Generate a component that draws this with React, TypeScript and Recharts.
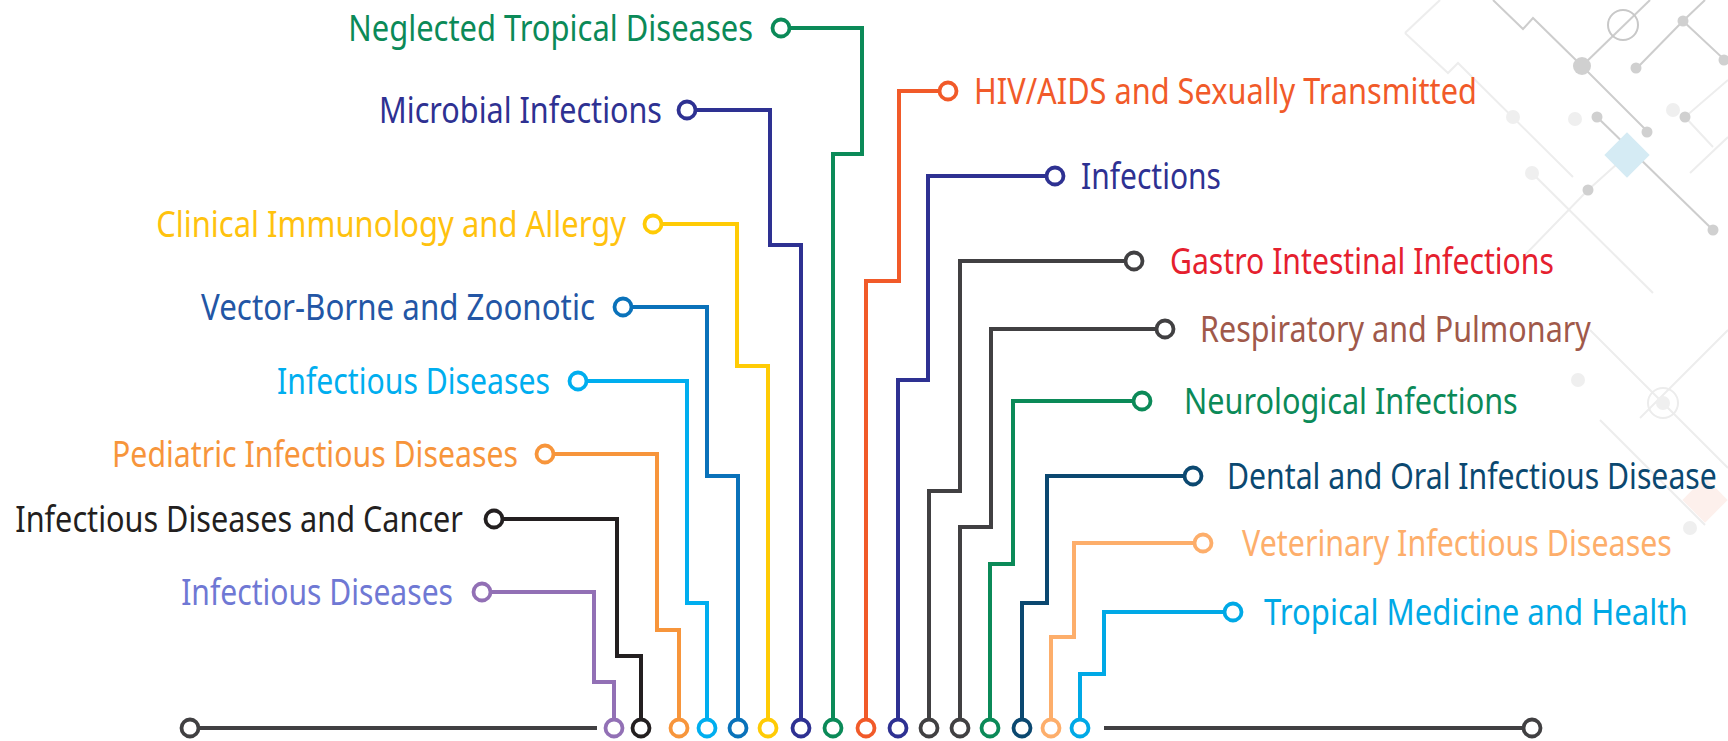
import { ComposedChart, Line, Scatter, XAxis, YAxis } from 'recharts'

const W = 1728
const H = 741

type Pt = [number, number]

// chart units are the pixels of the original picture (y grows downward)
// every path starts at the label circle and ends at the circle on the base row
const neglectedPath: Pt[] = [[781, 28], [862, 28], [862, 154], [833, 154], [833, 728]]
const microbialPath: Pt[] = [[687, 110], [770, 110], [770, 245], [801, 245], [801, 728]]
const clinicalPath: Pt[] = [[653, 224], [737, 224], [737, 366], [768, 366], [768, 728]]
const vectorPath: Pt[] = [[623, 307], [707, 307], [707, 476], [738, 476], [738, 728]]
const infectiousPath: Pt[] = [[578, 381], [687, 381], [687, 603], [707, 603], [707, 728]]
const pediatricPath: Pt[] = [[545, 454], [657, 454], [657, 630], [679, 630], [679, 728]]
const cancerPath: Pt[] = [[494, 519], [617, 519], [617, 656], [641, 656], [641, 728]]
const infectious2Path: Pt[] = [[482, 592], [594, 592], [594, 682], [614, 682], [614, 728]]
const hivPath: Pt[] = [[948, 91], [899, 91], [899, 281], [866, 281], [866, 728]]
const infectionsPath: Pt[] = [[1055, 176], [928, 176], [928, 380], [898, 380], [898, 728]]
const gastroPath: Pt[] = [[1134, 261], [960, 261], [960, 491], [929, 491], [929, 728]]
const respiratoryPath: Pt[] = [[1165, 329], [991, 329], [991, 527], [960, 527], [960, 728]]
const neuroPath: Pt[] = [[1142, 401], [1013, 401], [1013, 564], [990, 564], [990, 728]]
const dentalPath: Pt[] = [[1193, 476], [1047, 476], [1047, 603], [1022, 603], [1022, 728]]
const vetPath: Pt[] = [[1203, 543], [1074, 543], [1074, 637], [1051, 637], [1051, 728]]
const tropicalPath: Pt[] = [[1233, 612], [1104, 612], [1104, 674], [1080, 674], [1080, 728]]

const labels = [
  'Neglected Tropical Diseases',
  'Microbial Infections',
  'Clinical Immunology and Allergy',
  'Vector-Borne and Zoonotic',
  'Infectious Diseases',
  'Pediatric Infectious Diseases',
  'Infectious Diseases and Cancer',
  'Infectious Diseases',
  'HIV/AIDS and Sexually Transmitted',
  'Infections',
  'Gastro Intestinal Infections',
  'Respiratory and Pulmonary',
  'Neurological Infections',
  'Dental and Oral Infectious Disease',
  'Veterinary Infectious Diseases',
  'Tropical Medicine and Health',
]

const paths = [
  neglectedPath, microbialPath, clinicalPath, vectorPath,
  infectiousPath, pediatricPath, cancerPath, infectious2Path,
  hivPath, infectionsPath, gastroPath, respiratoryPath,
  neuroPath, dentalPath, vetPath, tropicalPath,
]

const sides = ['left', 'left', 'left', 'left', 'left', 'left', 'left', 'left',
  'right', 'right', 'right', 'right', 'right', 'right', 'right', 'right']

// base row with its two end circles
const baseLeft: Pt[] = [[190, 728], [597, 728]]
const baseRight: Pt[] = [[1104, 728], [1532, 728]]
const baseEnds: Pt[] = [[190, 728], [1532, 728]]

// styling
const lineColors = [
  '#0b8a58', '#2e3192', '#ffcb05', '#0a72ba', '#00aeef', '#f7953b', '#231f20', '#9270b5',
  '#f15a29', '#2e3192', '#414042', '#414042', '#0b8a58', '#0b4870', '#fdae6b', '#00a9e6',
]
const textColors = [
  '#0b8a58', '#2e3192', '#ffc20e', '#2356a5', '#00aeef', '#f7953b', '#231f20', '#6f78d4',
  '#f15a29', '#2e3192', '#e5202e', '#a0594a', '#0b8a58', '#0b4870', '#fdae6b', '#00a9e6',
]
const labelWidths = [405, 283, 470, 394, 273, 406, 448, 272, 503, 140, 384, 391, 334, 490, 430, 424]
const labelGaps = [28, 25, 27, 28, 28, 27, 31, 29, 26, 26, 36, 35, 42, 34, 39, 31]

// faint circuit pattern in the top right corner
const decoDark: Pt[][] = [
  [[1493, 0], [1523, 29], [1533, 18], [1582, 66], [1648, 132]],
  [[1650, 0], [1582, 66]],
  [[1597, 117], [1713, 230]],
  [[1705, 0], [1683, 21], [1637, 68]],
  [[1683, 21], [1728, 63]],
]
const decoLight: Pt[][] = [
  [[1405, 33], [1440, 0]],
  [[1405, 33], [1448, 73], [1458, 63], [1573, 177]],
  [[1627, 155], [1588, 190], [1523, 257]],
  [[1728, 80], [1685, 117], [1713, 147]],
  [[1690, 173], [1728, 137]],
  [[1532, 173], [1653, 293]],
  [[1590, 330], [1728, 468]],
  [[1728, 330], [1640, 418]],
  [[1600, 420], [1705, 525]],
]
const decoDots: Pt[] = [[1582, 66], [1636, 68], [1683, 21], [1724, 60], [1647, 132], [1597, 117], [1588, 190], [1713, 230], [1685, 117]]
const decoDotsLight: Pt[] = [[1513, 117], [1575, 119], [1532, 173], [1673, 110], [1663, 403], [1578, 380], [1690, 528]]
const decoRings: Pt[] = [[1623, 25], [1663, 403]]
const decoDiamonds: Pt[] = [[1627, 155], [1705, 500]]

const toData = (p: Pt[], extra: Record<string, unknown> = {}) =>
  p.map(([x, y]) => ({ x, y, ...extra }))

const FONT_SIZE = 36
const FONT = '"Noto Sans", "Open Sans", sans-serif'

// natural width of a label, used to squeeze it horizontally to the picture's width
let ctx: CanvasRenderingContext2D | null = null
function naturalWidth(s: string) {
  if (!ctx) ctx = document.createElement('canvas').getContext('2d')
  if (!ctx) return s.length * FONT_SIZE * 0.5
  ctx.font = `${FONT_SIZE}px ${FONT}`
  return ctx.measureText(s).width
}

function Node(props: any) {
  const { cx, cy, payload } = props
  const i = payload.i as number
  const stroke = i >= 0 ? lineColors[i] : '#414042'
  const showLabel = payload.label && i >= 0
  const left = sides[i] === 'left'
  let label = null
  if (showLabel) {
    const sx = labelWidths[i] / naturalWidth(labels[i])
    const tx = left ? cx - labelGaps[i] : cx + labelGaps[i]
    label = (
      <text
        transform={`translate(${tx} ${cy + 13}) scale(${sx} 1)`}
        x={0}
        y={0}
        textAnchor={left ? 'end' : 'start'}
        fill={textColors[i]}
        fontFamily={FONT}
        fontSize={FONT_SIZE}
      >
        {labels[i]}
      </text>
    )
  }
  return (
    <g>
      <circle cx={cx} cy={cy} r={8.5} fill="#fff" stroke={stroke} strokeWidth={3.8} />
      {label}
    </g>
  )
}

export default function App() {
  return (
    <div style={{ position: 'absolute', left: 0, top: 0, width: W, height: H, background: '#fff' }}>
      <ComposedChart width={W} height={H} margin={{ top: 0, right: 0, bottom: 0, left: 0 }}>
        <XAxis type="number" dataKey="x" domain={[0, W]} hide allowDataOverflow />
        <YAxis type="number" dataKey="y" domain={[0, H]} reversed hide allowDataOverflow />

        {/* background pattern */}
        {decoLight.map((p, k) => (
          <Line key={'dl' + k} data={toData(p)} dataKey="y" stroke="#ededed" strokeWidth={2}
            dot={false} activeDot={false} isAnimationActive={false} />
        ))}
        {decoDark.map((p, k) => (
          <Line key={'dd' + k} data={toData(p)} dataKey="y" stroke="#cdcdcd" strokeWidth={2}
            dot={false} activeDot={false} isAnimationActive={false} />
        ))}
        <Scatter data={toData(decoDotsLight)} isAnimationActive={false}
          shape={(p: any) => <circle cx={p.cx} cy={p.cy} r={7} fill="#efefef" />} />
        <Scatter data={toData(decoDots)} isAnimationActive={false}
          shape={(p: any) => <circle cx={p.cx} cy={p.cy} r={p.index === 0 ? 9 : 5.5} fill="#d0d0d0" />} />
        <Scatter data={toData(decoRings)} isAnimationActive={false}
          shape={(p: any) => (
            <circle cx={p.cx} cy={p.cy} r={15} fill="none"
              stroke={p.index === 0 ? '#c8c8c8' : '#ececec'} strokeWidth={2} />
          )} />
        <Scatter data={toData(decoDiamonds)} isAnimationActive={false}
          shape={(p: any) => (
            <rect x={p.cx - 16} y={p.cy - 16} width={32} height={32}
              fill={p.index === 0 ? '#d5ebf4' : '#fdf0ec'}
              transform={`rotate(45 ${p.cx} ${p.cy})`} />
          )} />

        {/* base row */}
        <Line data={toData(baseLeft)} dataKey="y" stroke="#414042" strokeWidth={4}
          dot={false} activeDot={false} isAnimationActive={false} />
        <Line data={toData(baseRight)} dataKey="y" stroke="#414042" strokeWidth={4}
          dot={false} activeDot={false} isAnimationActive={false} />

        {/* connectors */}
        {paths.map((p, i) => (
          <Line key={'p' + i} data={toData(p)} dataKey="y" stroke={lineColors[i]} strokeWidth={4}
            strokeLinejoin="miter" strokeLinecap="butt"
            dot={false} activeDot={false} isAnimationActive={false} />
        ))}

        {/* circles and labels */}
        <Scatter data={toData(baseEnds, { i: -1 })} isAnimationActive={false} shape={Node} />
        {paths.map((p, i) => (
          <Scatter key={'n' + i} isAnimationActive={false} shape={Node}
            data={[
              { x: p[0][0], y: p[0][1], i, label: true },
              { x: p[p.length - 1][0], y: p[p.length - 1][1], i, label: false },
            ]} />
        ))}
      </ComposedChart>
    </div>
  )
}
